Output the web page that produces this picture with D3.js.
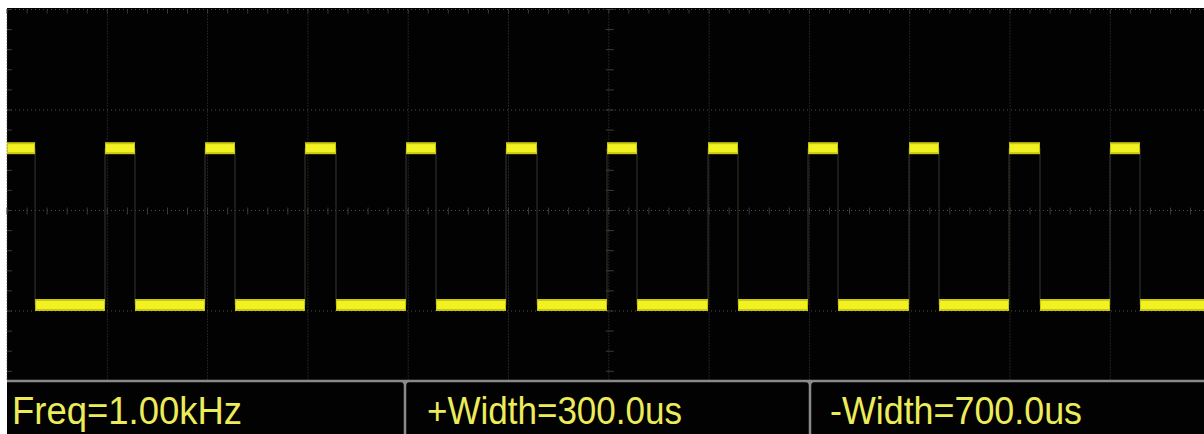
<!DOCTYPE html>
<html>
<head>
<meta charset="utf-8">
<script src="https://cdn.jsdelivr.net/npm/d3@7"></script>
<style>
  body { margin: 0; background: #fff; }
  svg { display: block; }
</style>
</head>
<body>
<svg width="1204" height="434"></svg>
<script>
// waveform edges (time in us from left edge)
var riseTimes = [977, 1974, 2971, 3978, 4975, 5982, 6989, 7986, 8993, 9990, 10997];
var fallTimes = [280, 1276, 2273, 3280, 4277, 5284, 6281, 7288, 8285, 9292, 10299, 11296];
var levels = { high: 0.62, low: -0.94 };   // volts, 1 V/div
var measLabels = ["Freq=1.00kHz", "+Width=300.0us", "-Width=700.0us"];

var svg = d3.select("svg"),
    width = +svg.attr("width"),
    height = +svg.attr("height");

// screen area (white border top/left in the photo)
var scrLeft = 7, scrTop = 9.5, divX = 100.3, divY = 100.5;
var panelTop = 381;

var x = d3.scaleLinear().domain([0, 12000]).range([scrLeft, scrLeft + 12 * divX]);
var y = d3.scaleLinear().domain([-2, 2]).range([scrTop + 4 * divY, scrTop]);

svg.append("rect")
  .attr("x", scrLeft).attr("y", 8)
  .attr("width", width - scrLeft).attr("height", height - 8)
  .attr("fill", "#020202");

var grid = svg.append("g").attr("class", "grid");

// dotted division lines
d3.range(0, 12001, 1000).forEach(function (t) {
  grid.append("line")
    .attr("x1", x(t)).attr("x2", x(t))
    .attr("y1", scrTop).attr("y2", panelTop)
    .attr("stroke", "#444").attr("stroke-width", 1)
    .attr("stroke-dasharray", "1,2");
});
[2, 1, 0, -1].forEach(function (v) {
  grid.append("line")
    .attr("x1", scrLeft).attr("x2", width)
    .attr("y1", y(v)).attr("y2", y(v))
    .attr("stroke", "#4a4a4a").attr("stroke-width", 1)
    .attr("stroke-dasharray", "1,3");
});

// minor ticks along top edge, centre line and left edge
var minorX = d3.range(0, 12001, 200);
[2, 0].forEach(function (v) {
  grid.selectAll(null).data(minorX).enter().append("line")
    .attr("x1", function (d) { return x(d); })
    .attr("x2", function (d) { return x(d); })
    .attr("y1", y(v) - (v === 2 ? 0 : 3)).attr("y2", y(v) + 4)
    .attr("stroke", "#3c3c3c");
});
var minorY = d3.range(-1.6, 2.01, 0.2);
[0, 6000].forEach(function (t) {
  grid.selectAll(null).data(minorY).enter().append("line")
    .attr("x1", x(t) - (t === 0 ? 0 : 3)).attr("x2", x(t) + 5)
    .attr("y1", function (d) { return y(d); })
    .attr("y2", function (d) { return y(d); })
    .attr("stroke", "#3c3c3c");
});

// transitions: thin dim verticals
var edges = riseTimes.concat(fallTimes);
svg.append("g").selectAll("line").data(edges).enter().append("line")
  .attr("x1", function (d) { return x(d); })
  .attr("x2", function (d) { return x(d); })
  .attr("y1", y(levels.high)).attr("y2", y(levels.low))
  .attr("stroke", "#3a3a30").attr("stroke-width", 1);

// high and low segments
var highSegs = [[0, fallTimes[0]]].concat(riseTimes.map(function (r, i) { return [r, fallTimes[i + 1]]; }));
var lowSegs = fallTimes.map(function (f, i) { return [f, i < riseTimes.length ? riseTimes[i] : 12000]; });

var wave = svg.append("g");
function drawSegs(segs, v) {
  wave.selectAll(null).data(segs).enter().append("line")
    .attr("x1", function (d) { return x(d[0]); })
    .attr("x2", function (d) { return x(d[1]); })
    .attr("y1", y(v)).attr("y2", y(v))
    .attr("stroke", "#c8c810").attr("stroke-width", 12);
  wave.selectAll(null).data(segs).enter().append("line")
    .attr("x1", function (d) { return x(d[0]) + 1; })
    .attr("x2", function (d) { return x(d[1]) - 1; })
    .attr("y1", y(v)).attr("y2", y(v))
    .attr("stroke", "#f2f222").attr("stroke-width", 8);
}
drawSegs(highSegs, levels.high);
drawSegs(lowSegs, levels.low);

// measurement panel
svg.append("rect")
  .attr("x", scrLeft).attr("y", panelTop)
  .attr("width", width - scrLeft).attr("height", height - panelTop)
  .attr("fill", "#020202");

var dividers = [405, 810];
var panel = svg.append("path")
  .attr("fill", "none").attr("stroke", "#8a8a8a").attr("stroke-width", 2.5);
var p = "M" + scrLeft + "," + panelTop + "H" + width;
dividers.forEach(function (dx) {
  p += "M" + (dx - 4) + "," + panelTop + "Q" + dx + "," + panelTop + " " + dx + "," + (panelTop + 5) + "V" + height;
  p += "M" + (dx + 4) + "," + panelTop + "Q" + dx + "," + panelTop + " " + dx + "," + (panelTop + 5);
});
panel.attr("d", p);

// label positions and widths as seen in the panel
var textX = [12, 427, 830];
var textW = [230, 255, 252];
svg.selectAll("text.meas").data(measLabels).enter().append("text")
  .attr("class", "meas")
  .attr("x", function (d, i) { return textX[i]; })
  .attr("y", 424)
  .attr("textLength", function (d, i) { return textW[i]; })
  .attr("lengthAdjust", "spacingAndGlyphs")
  .attr("fill", "#ecec5a")
  .style("font-family", "'Liberation Sans', Arial, sans-serif")
  .style("font-size", "38px")
  .text(function (d) { return d; });
</script>
</body>
</html>
